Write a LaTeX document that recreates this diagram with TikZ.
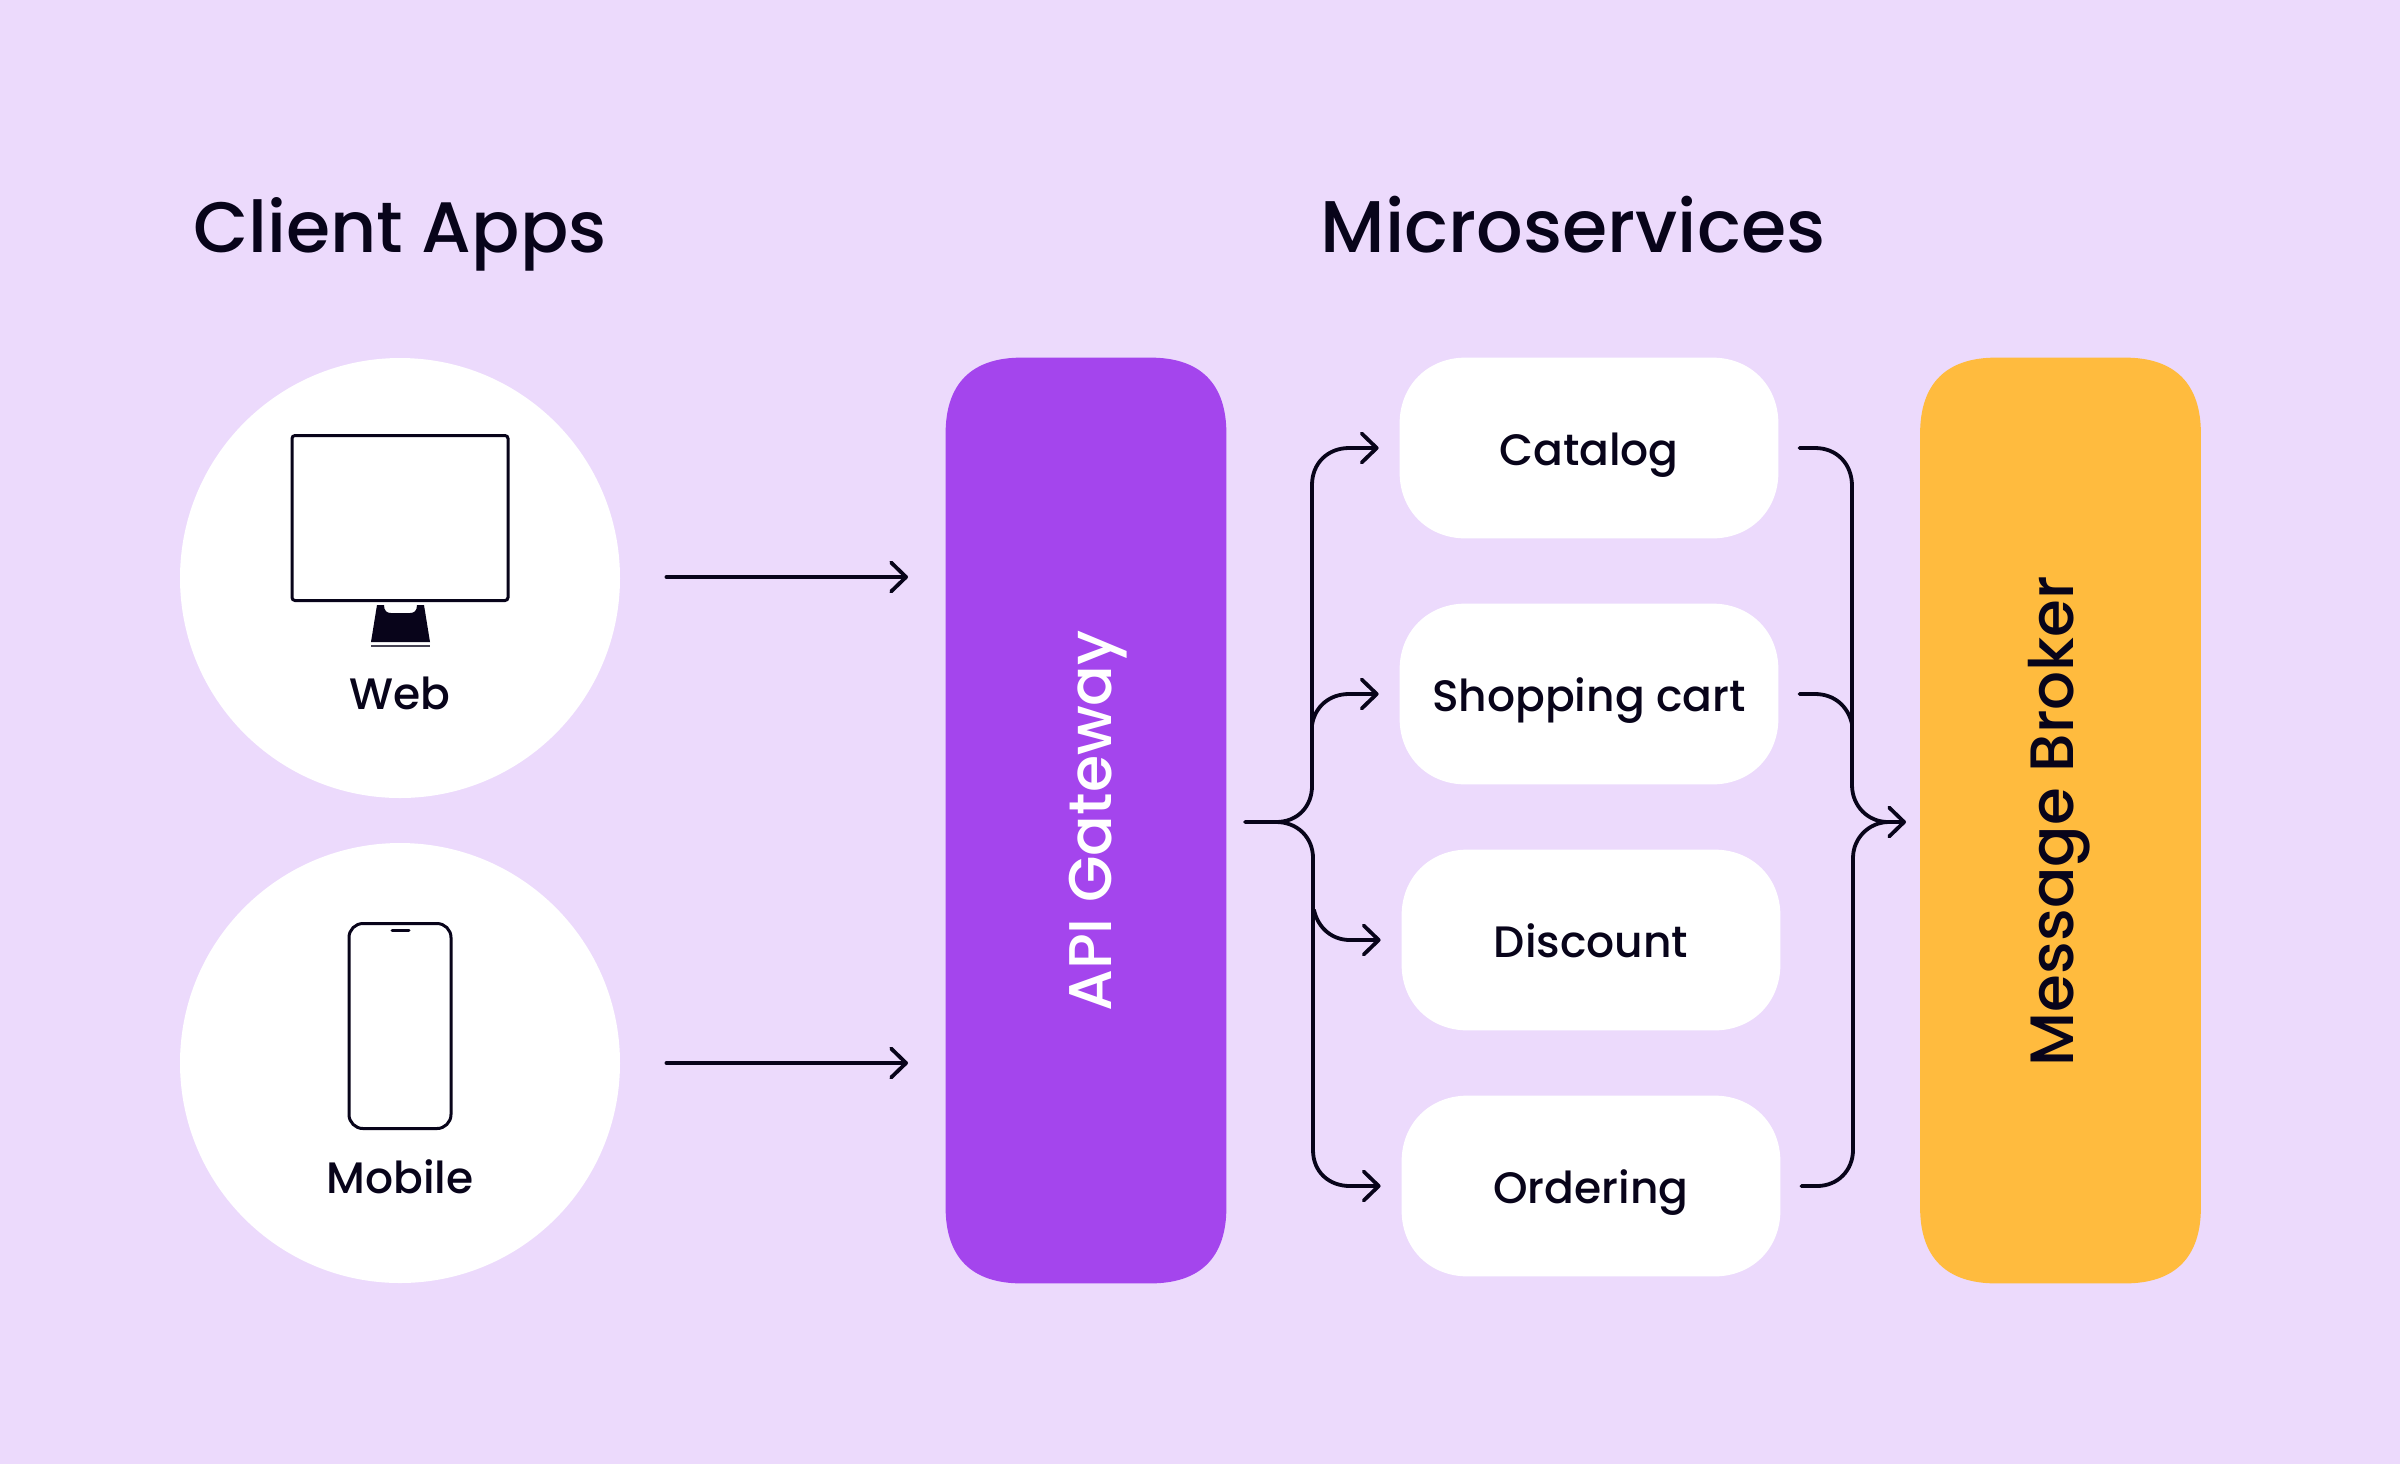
\documentclass[tikz,border=0pt]{standalone}
\usepackage{fontspec}
\setmainfont{Poppins}[UprightFont=* Medium]
\usetikzlibrary{arrows.meta}
\definecolor{bgc}{HTML}{ECDAFC}
\definecolor{ink}{HTML}{08041A}
\definecolor{gwc}{HTML}{A445ED}
\definecolor{brc}{HTML}{FFBB3E}
% soft (squircle) corners drawn round a named node: node, edge run R, control c, colour
\newcommand{\softbox}[4]{%
  \fill[#4] ([xshift=#2]#1.north west) -- ([xshift=-#2]#1.north east)
    .. controls ([xshift=-#3]#1.north east) and ([yshift=-#3]#1.north east) .. ([yshift=-#2]#1.north east)
    -- ([yshift=#2]#1.south east)
    .. controls ([yshift=#3]#1.south east) and ([xshift=-#3]#1.south east) .. ([xshift=-#2]#1.south east)
    -- ([xshift=#2]#1.south west)
    .. controls ([xshift=#3]#1.south west) and ([yshift=#3]#1.south west) .. ([yshift=#2]#1.south west)
    -- ([yshift=-#2]#1.north west)
    .. controls ([yshift=-#3]#1.north west) and ([xshift=#3]#1.north west) .. ([xshift=#2]#1.north west) -- cycle;}
\tikzset{
  x=0.5pt,y=-0.5pt,
  clientdisc/.style={circle,fill=white,minimum size=220pt,inner sep=0pt},
  svc/.style={rectangle,minimum width=189pt,minimum height=90pt,inner sep=0pt},
  bar/.style={rectangle,minimum width=140pt,minimum height=462.5pt,inner sep=0pt},
  conn/.style={draw=ink,line width=1.9pt,line cap=round,line join=round},
  arr/.style={conn,-{Straight Barb[length=7.5pt,width=14.5pt,round]}},
  lab/.style={anchor=base,text=ink,font=\fontsize{22}{24}\selectfont,inner sep=0pt},
  ttl/.style={anchor=base,text=ink,inner sep=0pt},
  barlab/.style={anchor=base,rotate=90,inner sep=0pt},
  icon/.style={draw=ink,line width=1.5pt,fill=white,inner sep=0pt}
}
\begin{document}
\begin{tikzpicture}
\path[use as bounding box,fill=bgc] (0,0) rectangle (2400,1464);
% titles
\node[ttl,font=\fontsize{35.7}{40}\selectfont] (tclient) at (400,252) {Client Apps};
\node[ttl,font=\fontsize{36.6}{40}\selectfont] (tmicro) at (1573,252) {Microservices};
% client discs
\node[clientdisc] (web) at (400,578) {};
\node[clientdisc] (mobile) at (400,1063) {};
% monitor
\node[icon,rectangle,rounded corners=1.5pt,minimum width=108pt,minimum height=82.5pt] (screen) at (400,518) {};
\fill[ink] (377,605) -- (384,605) .. controls (384,611) and (387,613) .. (391,613) -- (410,613) .. controls (414,613) and (417,611) .. (417,605) -- (424,605) -- (430,642) -- (371,642) -- cycle;
\fill[ink!75] (371,644.5) rectangle (430,647);
\node[lab] (lweb) at (400,709) {Web};
% phone
\node[icon,rectangle,rounded corners=7pt,minimum width=51pt,minimum height=102.5pt] (phone) at (400,1026) {};
\draw[ink,line width=1.5pt,line cap=round] (392,930) -- (409,930);
\node[lab] (lmobile) at (400,1193) {Mobile};
% bars
\node[bar] (gw) at (1086,820.5) {};
\node[bar] (br) at (2060.5,820.5) {};
\softbox{gw}{38pt}{13pt}{gwc}
\softbox{br}{38pt}{13pt}{brc}
\node[barlab,text=white,font=\fontsize{30.1}{32}\selectfont] (lgw) at (1111,821) {API Gateway};
\node[barlab,text=ink,font=\fontsize{30.6}{32}\selectfont] (lbr) at (2073,821) {Message Broker};
% services
\node[svc] (catalog) at (1589,448) {};
\node[svc] (cart) at (1589,694) {};
\node[svc] (discount) at (1591,940) {};
\node[svc] (ordering) at (1591,1186) {};
\softbox{catalog}{33pt}{14pt}{white}
\softbox{cart}{33pt}{14pt}{white}
\softbox{discount}{33pt}{14pt}{white}
\softbox{ordering}{33pt}{14pt}{white}
\node[lab] (lcatalog) at (1589,465) {Catalog};
\node[lab] (lcart) at (1589,711) {Shopping cart};
\node[lab] (ldiscount) at (1591,957) {Discount};
\node[lab] (lordering) at (1591,1203) {Ordering};
% client arrows
\coordinate (webout) at ([xshift=23pt,yshift=0.5pt]web.east);
\coordinate (mobout) at ([xshift=23pt]mobile.east);
\draw[arr] (webout) -- (webout -| 908,0);
\draw[arr] (mobout) -- (mobout -| 908,0);
% gateway fan-out
\coordinate (gwout) at (1245,822);
\coordinate (cin) at ([xshift=-10.5pt]catalog.west);
\coordinate (sin) at ([xshift=-10.5pt]cart.west);
\coordinate (din) at ([xshift=-10.5pt]discount.west);
\coordinate (oin) at ([xshift=-10.5pt]ordering.west);
\draw[arr] (gwout) -- (1276,822) .. controls (1298,822) and (1312,806) .. (1312,786) -- (1312,485) .. controls (1312,463) and (1328,448) .. (1349,448) -- (cin);
\draw[arr] (1312,725) .. controls (1315,706) and (1330,694) .. (1349,694) -- (sin);
\draw[arr] (1276,822) .. controls (1298,822) and (1313,838) .. (1313,858) -- (1313,1150) .. controls (1313,1172) and (1329,1186) .. (1350,1186) -- (oin);
\draw[arr] (1314,910) .. controls (1318,928) and (1332,940) .. (1350,940) -- (din);
% broker fan-in
\coordinate (cout) at ([xshift=10.5pt]catalog.east);
\coordinate (sout) at ([xshift=10.5pt]cart.east);
\coordinate (oout) at ([xshift=10.5pt]ordering.east);
\coordinate (brin) at (1906,822);
\draw[conn] (cout) -- (1815,448) .. controls (1837,448) and (1852,464) .. (1852,486) -- (1852,785) .. controls (1852,806) and (1868,822) .. (1888,822);
\draw[conn] (sout) -- (1815,694) .. controls (1834,694) and (1848,706) .. (1852,724);
\draw[arr] (oout) -- (1817,1186) .. controls (1838,1186) and (1853,1170) .. (1853,1150) -- (1853,858) .. controls (1853,838) and (1869,822) .. (1889,822) -- (brin);
\end{tikzpicture}
\end{document}
